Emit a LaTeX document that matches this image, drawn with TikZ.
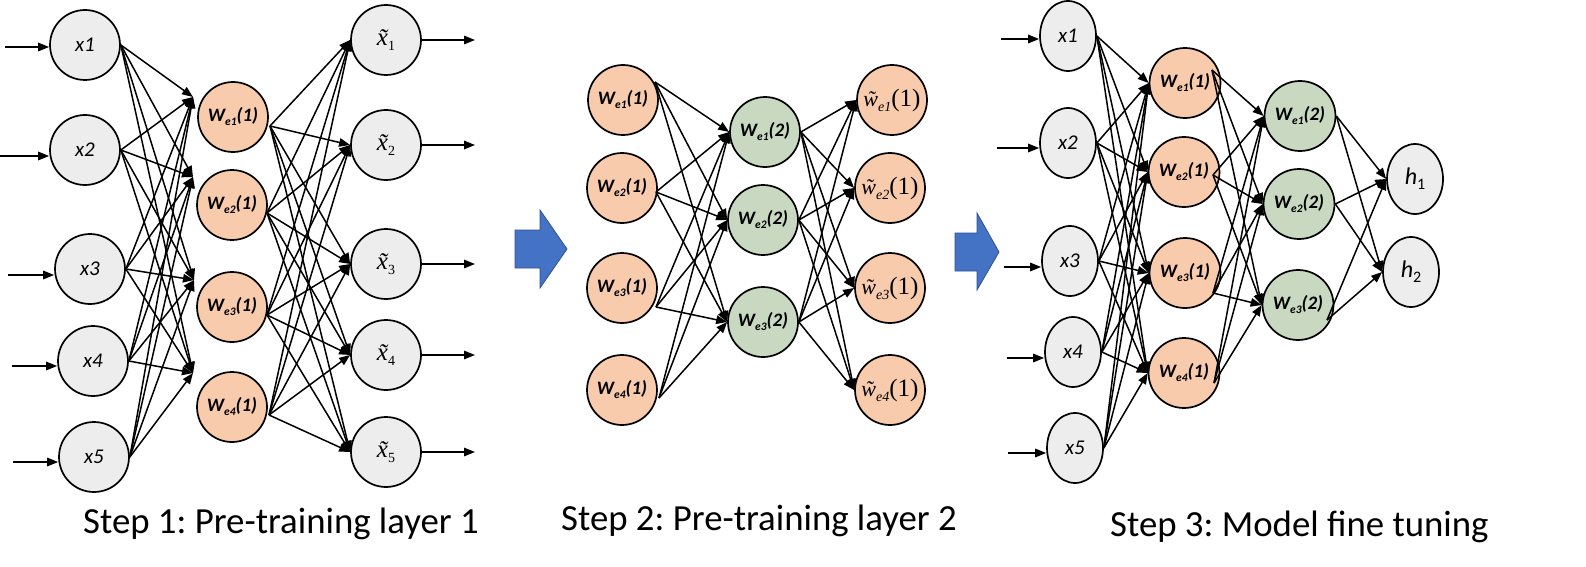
\documentclass[tikz,border=0pt]{standalone}
\usepackage{fontspec}
\setmainfont{Carlito}
\newfontfamily\tms{Liberation Serif}
\usetikzlibrary{arrows.meta,calc,shapes.geometric}
\frenchspacing

\definecolor{gfill}{HTML}{EDEDED}
\definecolor{ofill}{HTML}{F8CBAD}
\definecolor{grfill}{HTML}{C9D8C1}
\definecolor{bluea}{HTML}{4472C4}
\definecolor{blueb}{HTML}{2F528F}

\newcommand{\xlab}[1]{{\fontsize{21}{21}\selectfont\itshape #1}}
\newcommand{\wlab}[2]{{\fontsize{19}{19}\selectfont\bfseries\itshape W\raisebox{-4pt}{\fontsize{11.5}{11.5}\selectfont e#1}(#2)}}
\newcommand{\myxt}[1]{{\tms\fontsize{25}{25}\selectfont\itshape\~{x}\raisebox{-5pt}{\upshape\fontsize{14}{14}\selectfont #1}}}
\newcommand{\mywt}[1]{{\tms\fontsize{22}{22}\selectfont\itshape\~{w}\raisebox{-5pt}{\fontsize{14}{14}\selectfont e#1}\upshape\fontsize{25}{25}\selectfont(1)}}
\newcommand{\hlab}[1]{{\fontsize{24}{24}\selectfont\itshape h\raisebox{-5pt}{\upshape\fontsize{16}{16}\selectfont #1}}}

\tikzset{
  neuron/.style={circle, draw=black, line width=1.7pt, minimum size=70pt, inner sep=0pt},
  eneuron/.style={ellipse, draw=black, line width=1.7pt, minimum width=56pt, minimum height=70pt, inner sep=0pt},
  gfl/.style={fill=gfill},
  ofl/.style={fill=ofill},
  grfl/.style={fill=grfill},
  conn/.style={line width=1.5pt, -{Triangle[length=11pt,width=8.5pt]}},
  bigarrow/.style={fill=bluea, draw=blueb, line width=0.8pt},
  steplabel/.style={anchor=base west, inner sep=0pt, font=\fontsize{36.8}{36.8}\selectfont},
}

\begin{document}
\begin{tikzpicture}[x=1pt,y=-1pt]
\useasboundingbox (0,0) rectangle (1586,567);
\fill[white] (0,0) rectangle (1586,567);

% ---------------- Step 1 ----------------
\node[neuron,gfl] (s1x1) at (85,45)  {\xlab{x1}};
\node[neuron,gfl] (s1x2) at (85,150) {\xlab{x2}};
\node[neuron,gfl] (s1x3) at (90,269) {\xlab{x3}};
\node[neuron,gfl] (s1x4) at (93,361) {\xlab{x4}};
\node[neuron,gfl] (s1x5) at (94,457) {\xlab{x5}};

\node[neuron,ofl] (s1w1) at (233,117) {\wlab{1}{1}};
\node[neuron,ofl] (s1w2) at (232,205) {\wlab{2}{1}};
\node[neuron,ofl] (s1w3) at (232,307) {\wlab{3}{1}};
\node[neuron,ofl] (s1w4) at (232,407) {\wlab{4}{1}};

\node[neuron,gfl] (s1t1) at (386,40)  {\myxt{1}};
\node[neuron,gfl] (s1t2) at (386,145) {\myxt{2}};
\node[neuron,gfl] (s1t3) at (386,264) {\myxt{3}};
\node[neuron,gfl] (s1t4) at (386,355) {\myxt{4}};
\node[neuron,gfl] (s1t5) at (386,452) {\myxt{5}};

\coordinate (s1wi1) at ($(s1w1)+(-40,-20)$);
\coordinate (s1wi2) at ($(s1w2)+(-39,-28)$);
\coordinate (s1wi3) at ($(s1w3)+(-38,-27)$);
\coordinate (s1wi4) at ($(s1w4)+(-39,-34)$);
\coordinate (s1wo1) at ($(s1w1)+(37,9)$);
\coordinate (s1wo2) at ($(s1w2)+(35,8)$);
\coordinate (s1wo3) at ($(s1w3)+(35,8)$);
\coordinate (s1wo4) at ($(s1w4)+(37,8)$);

\coordinate (s1in1) at (5,47);
\coordinate (s1in2) at (0,156);
\coordinate (s1in3) at (8,275);
\coordinate (s1in4) at (12,366);
\coordinate (s1in5) at (13,462);
\foreach \i in {1,...,5}{\draw[conn] (s1in\i) -- (s1in\i -| s1x\i.west);}
\coordinate (s1out) at (475,0);
\foreach \i in {1,...,5}{\draw[conn] (s1t\i.east) -- (s1t\i.east -| s1out);}

\foreach \i in {1,...,5}{\foreach \j in {1,...,4}{\draw[conn] (s1x\i.east) -- (s1wi\j);}}
\foreach \j in {1,...,4}{\foreach \k in {1,...,5}{\draw[conn] (s1wo\j) -- (s1t\k.west);}}

% ---------------- Arrow 1 ----------------
\draw[bigarrow] (515,230) -- (540,230) -- (540,210) -- (567,249) -- (540,288) -- (540,268) -- (515,268) -- cycle;

% ---------------- Step 2 ----------------
\node[neuron,ofl] (s2a1) at (623,100) {\wlab{1}{1}};
\node[neuron,ofl] (s2a2) at (622,188) {\wlab{2}{1}};
\node[neuron,ofl] (s2a3) at (622,288) {\wlab{3}{1}};
\node[neuron,ofl] (s2a4) at (622,390) {\wlab{4}{1}};

\node[neuron,grfl] (s2b1) at (765,132) {\wlab{1}{2}};
\node[neuron,grfl] (s2b2) at (763,220) {\wlab{2}{2}};
\node[neuron,grfl] (s2b3) at (763,322) {\wlab{3}{2}};

\node[neuron,ofl] (s2c1) at (892,100) {\mywt{1}};
\node[neuron,ofl] (s2c2) at (890,188) {\mywt{2}};
\node[neuron,ofl] (s2c3) at (890,288) {\mywt{3}};
\node[neuron,ofl] (s2c4) at (890,390) {\mywt{4}};

\coordinate (s2ao1) at ($(s2a1)+(32,-18)$);
\coordinate (s2ao2) at ($(s2a2)+(34,4)$);
\coordinate (s2ao3) at ($(s2a3)+(34,19)$);
\coordinate (s2ao4) at ($(s2a4)+(37,8)$);

\foreach \i in {1,...,4}{\foreach \j in {1,2,3}{\draw[conn] (s2ao\i) -- (s2b\j.west);}}
\foreach \j in {1,2,3}{\foreach \k in {1,...,4}{\draw[conn] (s2b\j.east) -- (s2c\k.west);}}

% ---------------- Arrow 2 ----------------
\draw[bigarrow] (955,233) -- (977,233) -- (977,213) -- (999,252) -- (977,290) -- (977,271) -- (955,271) -- cycle;

% ---------------- Step 3 ----------------
\node[eneuron,gfl] (s3x1) at (1068,36)  {\xlab{x1}};
\node[eneuron,gfl] (s3x2) at (1068,143) {\xlab{x2}};
\node[eneuron,gfl] (s3x3) at (1070,261) {\xlab{x3}};
\node[eneuron,gfl] (s3x4) at (1073,352) {\xlab{x4}};
\node[eneuron,gfl] (s3x5) at (1075,448) {\xlab{x5}};

\node[eneuron,ofl] (s3a1) at (1185,83)  {\wlab{1}{1}};
\node[eneuron,ofl] (s3a2) at (1184,172) {\wlab{2}{1}};
\node[eneuron,ofl] (s3a3) at (1185,273) {\wlab{3}{1}};
\node[eneuron,ofl] (s3a4) at (1184,373) {\wlab{4}{1}};

\node[eneuron,grfl] (s3b1) at (1300,116) {\wlab{1}{2}};
\node[eneuron,grfl] (s3b2) at (1299,204) {\wlab{2}{2}};
\node[eneuron,grfl] (s3b3) at (1298,305) {\wlab{3}{2}};

\node[eneuron,gfl] (s3h1) at (1415,179) {\hlab{1}};
\node[eneuron,gfl] (s3h2) at (1411,272) {\hlab{2}};

\coordinate (s3in1) at (1001,39);
\coordinate (s3in2) at (997,148);
\coordinate (s3in3) at (1004,267);
\coordinate (s3in4) at (1007,358);
\coordinate (s3in5) at (1008,453);
\foreach \i in {1,...,5}{\draw[conn] (s3in\i) -- (s3in\i -| s3x\i.west);}

\coordinate (s3ao1) at ($(s3a1)+(27,-13)$);
\coordinate (s3ao2) at ($(s3a2)+(29,3)$);
\coordinate (s3ao3) at ($(s3a3)+(28,20)$);
\coordinate (s3ao4) at ($(s3a4)+(30,10)$);
\coordinate (s3bo1) at (s3b1.east);
\coordinate (s3bo2) at (s3b2.east);
\coordinate (s3bo3) at ($(s3b3)+(29,15)$);

\foreach \i in {1,...,5}{\foreach \j in {1,...,4}{\draw[conn] (s3x\i.east) -- (s3a\j.west);}}
\foreach \i in {1,...,4}{\foreach \j in {1,2,3}{\draw[conn] (s3ao\i) -- (s3b\j.west);}}
\foreach \j in {1,2,3}{\foreach \k in {1,2}{\draw[conn] (s3bo\j) -- (s3h\k.west);}}

% ---------------- Labels ----------------
\node[steplabel] (lab1) at (83,533)   {Step 1: Pre-training layer 1};
\node[steplabel] (lab2) at (561,530)  {Step 2: Pre-training layer 2};
\node[steplabel] (lab3) at (1110,536) {Step 3: Model fine tuning};
\end{tikzpicture}
\end{document}
